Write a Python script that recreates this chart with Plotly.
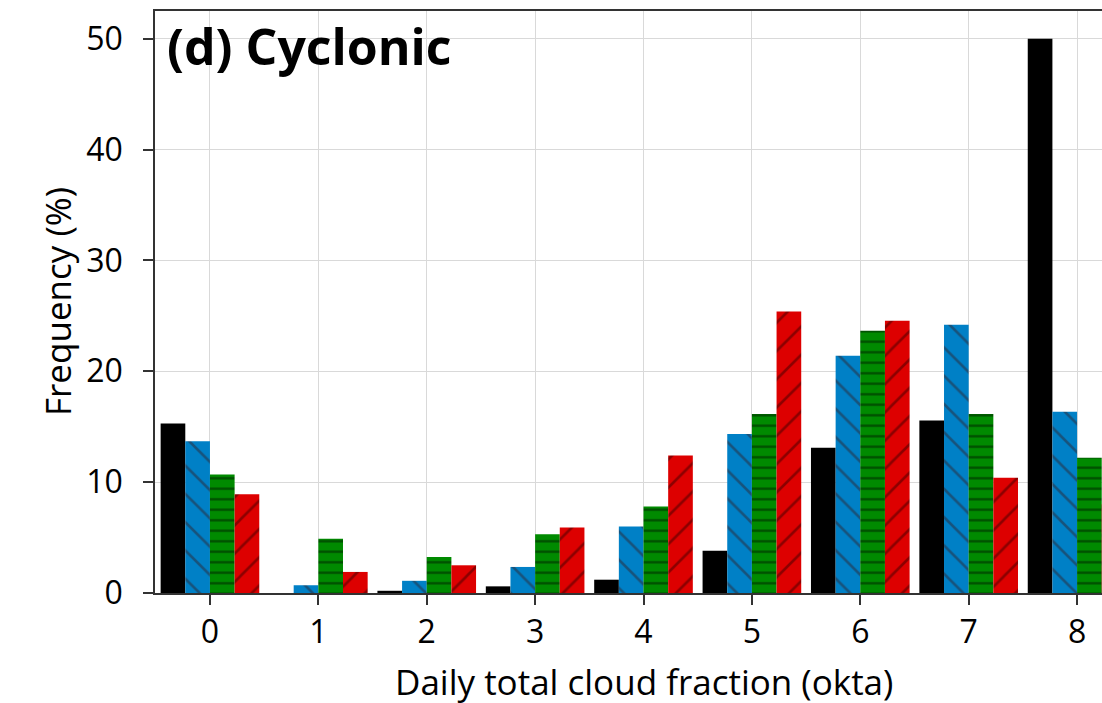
import plotly.graph_objects as go

categories = [0, 1, 2, 3, 4, 5, 6, 7, 8]
obs = [15.3, 0.0, 0.2, 0.6, 1.2, 3.8, 13.1, 15.55, 50.0]
blue = [13.7, 0.7, 1.1, 2.35, 6.0, 14.35, 21.4, 24.2, 16.35]
green = [10.7, 4.9, 3.25, 5.3, 7.8, 16.15, 23.65, 16.15, 12.2]
red = [8.9, 1.9, 2.5, 5.9, 12.4, 25.4, 24.55, 10.4, 8.0]

series = [
    ("Obs", obs, "#000000", "", "#000000", 10, 0.1),
    ("Model A", blue, "#0080c6", "\\", "#17537c", 20, 0.13),
    ("Model B", green, "#008a00", "-", "#004f00", 10.5, 0.22),
    ("Model C", red, "#dd0000", "/", "#8c0000", 20, 0.13),
]

fig = go.Figure()
for name, vals, col, shape, fg, psize, sol in series:
    marker = dict(color=col, line=dict(width=0))
    if shape:
        marker["pattern"] = dict(shape=shape, fgcolor=fg, bgcolor=col, size=psize,
                                 solidity=sol, fillmode="replace")
    fig.add_trace(go.Bar(x=categories, y=vals, name=name, marker=marker))

font = "Open Sans, Noto Sans, DejaVu Sans, sans-serif"
fig.update_layout(
    width=1102, height=703,
    margin=dict(l=155, r=0, t=11, b=110),
    barmode="group", bargap=0.09, bargroupgap=0,
    plot_bgcolor="white", paper_bgcolor="white",
    showlegend=False,
    font=dict(family=font, size=32, color="black"),
    xaxis=dict(
        range=[-0.507, 8.23], tickmode="array", tickvals=categories,
        ticktext=[str(c) for c in categories],
        showline=True, linecolor="#333333", linewidth=1.5, mirror=True,
        ticks="outside", ticklen=10, tickwidth=1.5, tickcolor="#333333",
        showgrid=True, gridcolor="#d9d9d9", gridwidth=1,
        zeroline=False,
    ),
    yaxis=dict(
        range=[0, 52.5], tickvals=[0, 10, 20, 30, 40, 50],
        showline=True, linecolor="#333333", linewidth=1.5, mirror=False,
        ticks="outside", ticklen=10, tickwidth=1.5, tickcolor="#333333",
        ticklabelstandoff=14,
        showgrid=True, gridcolor="#d9d9d9", gridwidth=1,
        zeroline=False,
    ),
    annotations=[
        dict(text="<b>(d) Cyclonic</b>", xref="paper", yref="paper",
             x=0.012, y=0.94, xanchor="left", yanchor="middle", showarrow=False,
             borderpad=0, font=dict(size=50, family=font, color="black")),
        dict(text="Daily total cloud fraction (okta)", xref="paper", yref="paper",
             x=(644 - 155) / 947, y=-(682 - 593) / 582, xanchor="center", yanchor="middle",
             showarrow=False, borderpad=0, font=dict(size=35, family=font, color="black")),
        dict(text="Frequency (%)", xref="paper", yref="paper", textangle=-90,
             x=-(155 - 57) / 947, y=(593 - 302) / 582, xanchor="center", yanchor="middle",
             showarrow=False, borderpad=0, font=dict(size=35, family=font, color="black")),
    ],
)

fig.write_html("out.html")
